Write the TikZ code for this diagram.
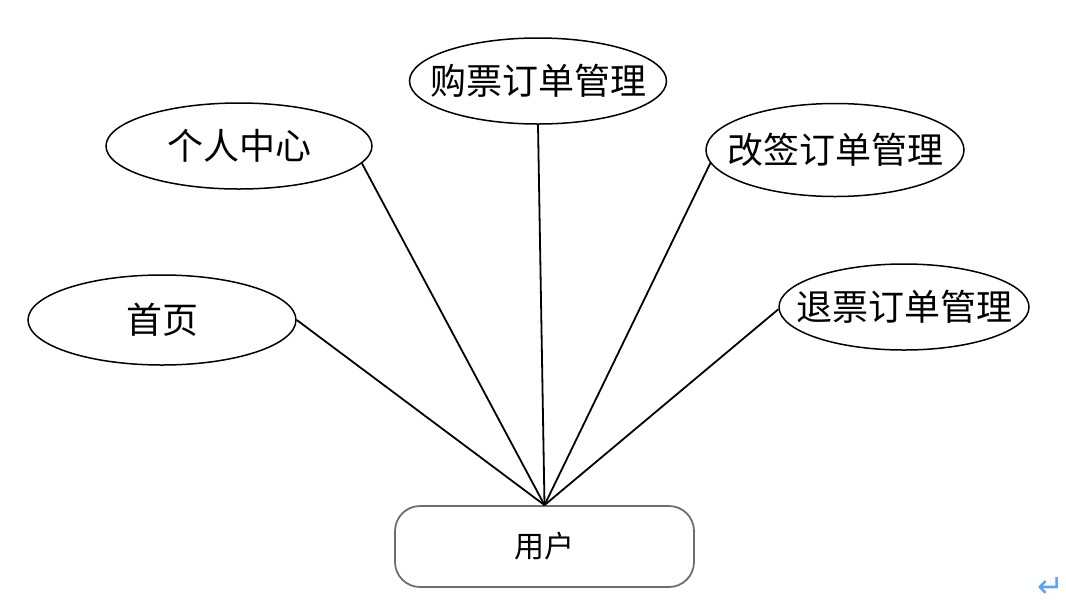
\documentclass[tikz,border=0pt]{standalone}
\usepackage{fontspec}
\newfontfamily\cjk{Noto Sans CJK SC}
\newfontfamily\symb{DejaVu Sans}
\usetikzlibrary{shapes.geometric}
\definecolor{userGray}{RGB}{110, 110, 110}
\definecolor{markBlue}{RGB}{90, 165, 240}
\newcommand{\etext}[1]{\makebox[0pt]{#1}}

\begin{document}
\begin{tikzpicture}[
  x=1pt, y=-1pt,
  func/.style={
    draw,
    ellipse,
    line width=1.5pt,
    inner sep=0pt,
    font=\cjk\fontsize{36}{42}\selectfont
  },
  role/.style={
    draw=userGray,
    rounded corners=25pt,
    line width=1.8pt,
    minimum width=299pt,
    minimum height=81pt,
    font=\cjk\fontsize{30}{36}\selectfont
  },
  link/.style={line width=1.8pt}
]
  \useasboundingbox (0,0) rectangle (1066,606);
  \node[func,minimum width=266pt,minimum height=86pt] (center) at (239,146) {\etext{个人中心}};
  \node[func,minimum width=257pt,minimum height=86pt] (buy) at (538,81) {\etext{购票订单管理}};
  \node[func,minimum width=258pt,minimum height=93pt] (change) at (835,150) {\etext{改签订单管理}};
  \node[func,minimum width=268pt,minimum height=90pt] (home) at (162,320) {\etext{首页}};
  \node[func,minimum width=250pt,minimum height=86pt] (refund) at (904,307) {\etext{退票订单管理}};
  \node[role] (user) at (544.5,546.5) {用户};
  \draw[link] (home.east) -- (user.north);
  \draw[link] (center.-8) -- (user.north);
  \draw[link] (buy.south) -- (user.north);
  \draw[link] (change.186) -- (user.north);
  \draw[link] (refund.181) -- (user.north);
  \node[text=markBlue,font=\symb\fontsize{32}{32}\selectfont] (mark) at (1051,587) {↵};
\end{tikzpicture}
\end{document}
